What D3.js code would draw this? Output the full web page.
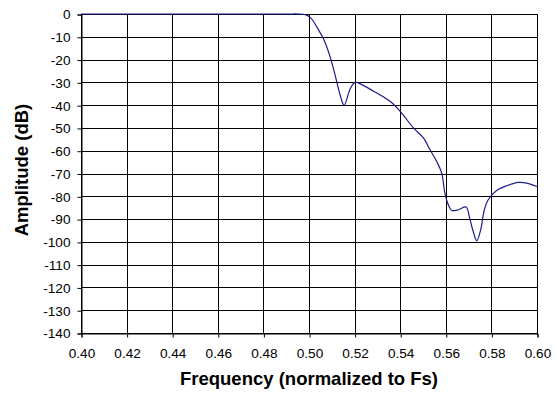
<!DOCTYPE html>
<html><head><meta charset="utf-8">
<script src="https://cdn.jsdelivr.net/npm/d3@7"></script>
<style>body{margin:0;background:#fff}svg{display:block}</style>
</head><body><svg id="c" width="557" height="397"></svg>
<script>
const freq = [0.40,0.45,0.49,0.4955,0.4975,0.4990,0.5005,0.5020,0.5036,0.5063,0.5092,0.5114,0.5136,0.5154,0.518,0.5202,0.5231,0.5297,0.5355,0.5400,0.5458,0.5502,0.5531,0.5560,0.5582,0.5596,0.5611,0.5626,0.5655,0.5689,0.5703,0.5718,0.5736,0.5753,0.5769,0.5786,0.5823,0.5867,0.5918,0.5955,0.60];
const amp = [0,0,0,0,-0.1,-0.5,-1.5,-3.3,-6,-10.8,-18.6,-26.6,-35.4,-40,-33,-30,-31,-34.7,-38.3,-42.7,-50,-54.4,-59.6,-64.7,-69.8,-78.6,-83.7,-86.2,-85.9,-84.7,-88.8,-94.7,-99.5,-94.7,-85.9,-81.5,-77.5,-75.4,-73.9,-74.2,-75.7];
const xTicks = [0.40,0.42,0.44,0.46,0.48,0.50,0.52,0.54,0.56,0.58,0.60];
const yTicks = [0,-10,-20,-30,-40,-50,-60,-70,-80,-90,-100,-110,-120,-130,-140];

const svg = d3.select("#c");
const L = 81, R = 537, T = 14, B = 333;
const x = d3.scaleLinear().domain([0.40,0.60]).range([L,R]);
const y = d3.scaleLinear().domain([0,-140]).range([T,B]);
const font = "Liberation Sans, Arial, sans-serif";
const g = svg.append("g").attr("transform","translate(0.5,0.5)");

// grid
g.selectAll(".hg").data(yTicks).enter().append("line")
  .attr("x1",L).attr("x2",R).attr("y1",d=>Math.round(y(d))).attr("y2",d=>Math.round(y(d)))
  .attr("stroke","#000").attr("stroke-width",1);
g.selectAll(".vg").data(xTicks).enter().append("line")
  .attr("y1",T).attr("y2",B).attr("x1",d=>Math.round(x(d))).attr("x2",d=>Math.round(x(d)))
  .attr("stroke","#000").attr("stroke-width",1);
g.append("rect").attr("x",L).attr("y",T).attr("width",R-L).attr("height",B-T)
  .attr("fill","none").attr("stroke","#000");

// axes
const xa = g.append("g").attr("transform",`translate(0,${B})`)
  .call(d3.axisBottom(x).tickValues(xTicks).tickFormat(d3.format(".2f")).tickSize(4).tickPadding(11));
const ya = g.append("g").attr("transform",`translate(${L},0)`)
  .call(d3.axisLeft(y).tickValues(yTicks).tickFormat(d=>d===0?"0":String(d)).tickSize(4).tickPadding(7));
[xa,ya].forEach(a=>{
  a.selectAll("path,line").attr("stroke","#000");
  a.selectAll("text").attr("font-family",font).attr("font-size",13.6).attr("fill","#000");
});

// curve
const line = d3.line().x((d,i)=>x(freq[i])).y(d=>y(d)).curve(d3.curveCatmullRom.alpha(0.5));
svg.append("path").datum(amp).attr("d",line).attr("fill","none")
  .attr("stroke","#1c1c8a").attr("stroke-width",1.2);

// titles
svg.append("text").attr("x",309).attr("y",385).attr("text-anchor","middle")
  .attr("font-family",font).attr("font-size",18.5).attr("font-weight","bold").text("Frequency (normalized to Fs)");
svg.append("text").attr("transform","translate(28,170) rotate(-90)").attr("text-anchor","middle")
  .attr("font-family",font).attr("font-size",18.5).attr("font-weight","bold").text("Amplitude (dB)");
</script></body></html>
